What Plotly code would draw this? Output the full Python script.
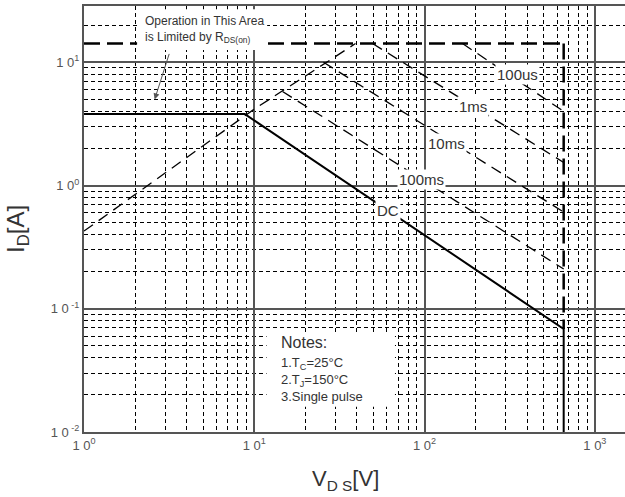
import math
import plotly.graph_objects as go

# ---- data (V_DS in volts, I_D in amperes) ----
dc_v = [1.0, 8.8, 656, 656]
dc_i = [3.8, 3.8, 0.0686, 0.01]

rds_v = [1.0, 10.0, 39.3]          # limited by RDS(on)
rds_i = [0.427, 4.17, 14.2]

idm_v = [1.0, 656]                 # pulsed current limit
idm_i = [14.2, 14.2]

vlim_v = [656, 656]                # voltage limit
vlim_i = [14.2, 0.0686]

us100_v = [167, 656]
us100_i = [14.2, 4.0]

ms1_v = [49.5, 656]
ms1_i = [14.2, 1.54]

ms10_v = [25.5, 656]
ms10_i = [10.0, 0.61]

ms100_v = [14.65, 656]
ms100_i = [5.8, 0.21]

x_tick_vals = [1, 10, 100, 1000]
x_tick_text = ["1 0<sup>0</sup>", "1 0<sup>1</sup>", "1 0<sup>2</sup>", "1 0<sup>3</sup>"]
y_tick_vals = [0.01, 0.1, 1, 10]
y_tick_text = ["1 0<sup> -2</sup>", "1 0<sup> -1</sup>", "1 0<sup>0</sup>", "1 0<sup>1</sup>"]

curve_labels = ["100us", "1ms", "10ms", "100ms", "DC"]
label_v = [349, 192.4, 135.4, 95.3, 61.0]
label_i = [8.0, 4.42, 2.2, 1.13, 0.627]

notes_title = "Notes:"
notes_lines = ["1.T<sub>C</sub>=25°C", "2.T<sub>J</sub>=150°C", "3.Single pulse"]

FONT = "Liberation Sans Narrow, Liberation Sans, Arial, sans-serif"
TXT = "#333333"
L = math.log10  # annotations on log axes take log10 positions

fig = go.Figure()

thin = dict(color="black", width=1.3, dash="11px,7px")
thick = dict(color="black", width=2.5, dash="16px,7px")

fig.add_trace(go.Scatter(x=rds_v, y=rds_i, mode="lines", line=thin))
fig.add_trace(go.Scatter(x=us100_v, y=us100_i, mode="lines", line=thin))
fig.add_trace(go.Scatter(x=ms1_v, y=ms1_i, mode="lines", line=thin))
fig.add_trace(go.Scatter(x=ms10_v, y=ms10_i, mode="lines", line=thin))
fig.add_trace(go.Scatter(x=ms100_v, y=ms100_i, mode="lines", line=thin))
fig.add_trace(go.Scatter(x=idm_v, y=idm_i, mode="lines", line=thick))
fig.add_trace(go.Scatter(x=vlim_v, y=vlim_i, mode="lines", line=thick))
fig.add_trace(go.Scatter(x=dc_v, y=dc_i, mode="lines", line=dict(color="black", width=2)))

axis_common = dict(
    type="log",
    tickmode="array",
    showgrid=True, gridcolor="#555555", gridwidth=1.5,
    minor=dict(dtick="D1", showgrid=True, gridcolor="black", griddash="4px,3px", gridwidth=1, ticks=""),
    showline=True, linecolor="#555555", linewidth=2,
    ticks="", zeroline=False,
    tickfont=dict(family=FONT, size=13, color="#555555"),
)

fig.update_xaxes(range=[0, 3.177], tickvals=x_tick_vals, ticktext=x_tick_text, mirror=True, **axis_common)
fig.update_yaxes(range=[-2, 1.457], tickvals=y_tick_vals, ticktext=y_tick_text, mirror=False, **axis_common)

# curve labels with white boxes
for t, xv, yv in zip(curve_labels, label_v, label_i):
    fig.add_annotation(x=L(xv), y=L(yv), xref="x", yref="y", text=t, showarrow=False,
                       font=dict(family=FONT, size=15, color=TXT), bgcolor="white", borderpad=1,
                       xanchor="center", yanchor="middle")

# axis titles
fig.add_annotation(xref="paper", yref="paper", x=(17 - 84) / 541, y=(432 - 229) / 426,
                   text="I<sub>D</sub>[A]", textangle=-90, showarrow=False,
                   font=dict(family=FONT, size=24, color=TXT), xanchor="center", yanchor="middle")
fig.add_annotation(xref="paper", yref="paper", x=(345 - 84) / 541, y=(432 - 480) / 426,
                   text="V<sub>D S</sub>[V]", showarrow=False,
                   font=dict(family=FONT, size=22, color=TXT), xanchor="center", yanchor="middle")

# RDS(on) note box
fig.add_shape(type="rect", xref="x", yref="y", x0=2.05, x1=11.9, y0=12.6, y1=27.0,
              fillcolor="white", line=dict(width=0), layer="above")
fig.add_annotation(x=L(2.25), y=L(18.3), xref="x", yref="y",
                   text="Operation in This Area<br>is Limited by R<sub>DS(on)</sub>", showarrow=False,
                   font=dict(family=FONT, size=12, color=TXT), xanchor="left", yanchor="middle",
                   align="left", borderpad=0)
fig.add_annotation(x=L(2.6), y=L(5.0), xref="x", yref="y", text="", showarrow=True, ax=15, ay=-47,
                   arrowhead=2, arrowsize=1.2, arrowwidth=1, arrowcolor="#555555")

# Notes box
fig.add_shape(type="rect", xref="x", yref="y", x0=11.8, x1=67, y0=0.016, y1=0.062,
              fillcolor="white", line=dict(width=0), layer="above")
fig.add_annotation(x=L(14.2), y=L(0.0537), xref="x", yref="y", text=notes_title, showarrow=False,
                   font=dict(family=FONT, size=16, color=TXT), xanchor="left", yanchor="middle",
                   borderpad=0)
fig.add_annotation(x=L(14.2), y=L(0.0265), xref="x", yref="y", text="<br>".join(notes_lines),
                   showarrow=False, align="left", borderpad=0,
                   font=dict(family=FONT, size=13, color=TXT), xanchor="left", yanchor="middle")

fig.update_layout(
    width=625, height=497,
    margin=dict(l=84, r=0, t=6, b=65),
    plot_bgcolor="white", paper_bgcolor="white",
    showlegend=False,
)

fig.write_html("out.html")
